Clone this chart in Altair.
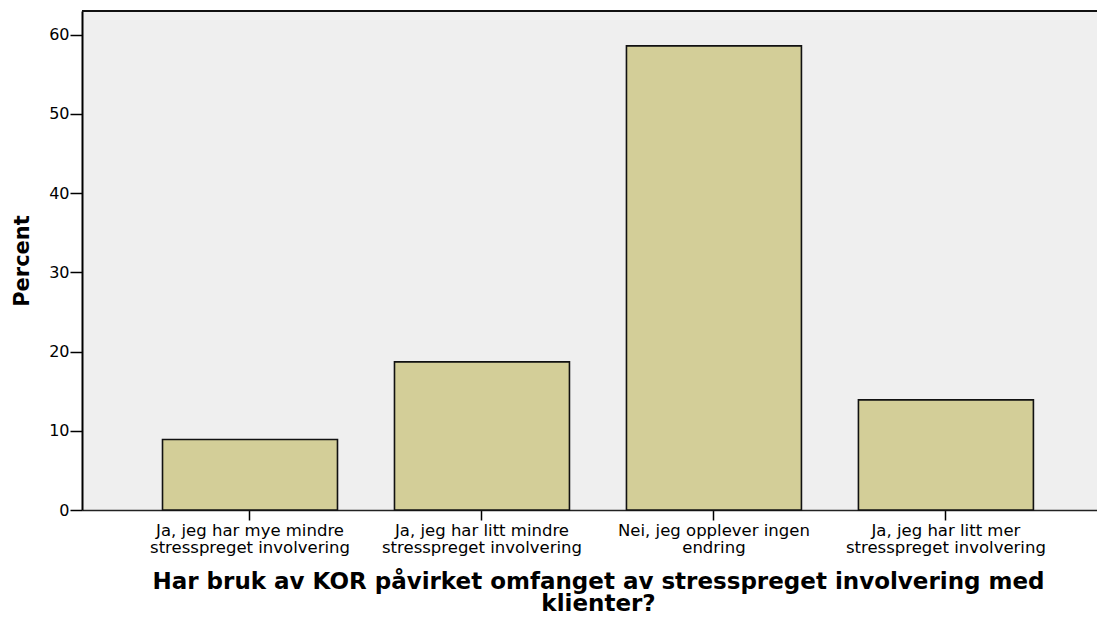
import altair as alt
import pandas as pd

categories = [
    "Ja, jeg har mye mindre\nstresspreget involvering",
    "Ja, jeg har litt mindre\nstresspreget involvering",
    "Nei, jeg opplever ingen\nendring",
    "Ja, jeg har litt mer\nstresspreget involvering",
]
percent = [8.9, 18.7, 58.6, 13.9]

x_title = ["Har bruk av KOR påvirket omfanget av stresspreget involvering med", "klienter?"]
y_title = "Percent"
y_ticks = [0, 10, 20, 30, 40, 50, 60]

df = pd.DataFrame({"cat": categories, "pct": percent})

W = 1015
H = 499
FONT = "DejaVu Sans"

bars = alt.Chart(df).mark_bar(
    fill="#D3CE98", stroke="#111111", strokeWidth=1.6
).encode(
    x=alt.X(
        "cat:N",
        sort=None,
        scale=alt.Scale(paddingInner=0.2457, paddingOuter=0.3106, align=0.5587),
        axis=alt.Axis(
            title=x_title,
            labelAngle=0,
            labelExpr="split(datum.label, '\\n')",
            labelFont=FONT,
            labelFontSize=16.5,
            labelColor="#000000",
            labelLineHeight=17,
            labelPadding=2,
            labelLimit=0,
            tickSize=10,
            tickColor="#000000",
            tickWidth=1.5,
            domainColor="#222222",
            domainWidth=1.5,
            titleFont=FONT,
            titleFontSize=23,
            titleFontWeight="bold",
            titleColor="#000000",
            titleLineHeight=22,
            titleX=516,
            titleY=78,
            titleAlign="center",
            titleBaseline="alphabetic",
        ),
    ),
    y=alt.Y(
        "pct:Q",
        scale=alt.Scale(domain=[0, 63], nice=False),
        axis=alt.Axis(
            title=y_title,
            values=y_ticks,
            grid=False,
            labelFont=FONT,
            labelFontSize=16,
            labelColor="#000000",
            labelPadding=1,
            tickSize=12,
            tickColor="#000000",
            tickWidth=1.5,
            domainColor="#000000",
            domainWidth=2,
            titleFont=FONT,
            titleFontSize=21,
            titleFontWeight="bold",
            titleColor="#000000",
            titlePadding=16,
        ),
    ),
)

top_border = alt.Chart(df).mark_rule(color="#111111", strokeWidth=2).encode(
    x=alt.value(0), x2=alt.value(W), y=alt.value(0)
)

chart = alt.layer(bars, top_border).properties(
    width=W,
    height=H,
    autosize=alt.AutoSizeParams(type="none"),
    padding={"left": 74, "top": 3, "right": 0, "bottom": 106},
    background="#FFFFFF",
).configure_view(
    fill="#EFEFEF", stroke=None
)

chart.save("out.html", embed_options={"renderer": "svg", "actions": False})
